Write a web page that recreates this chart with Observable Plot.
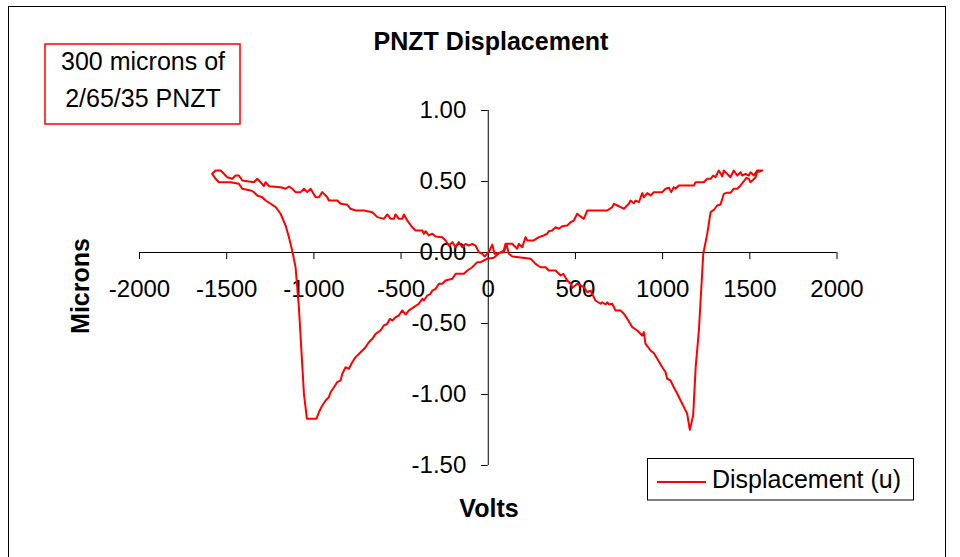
<!DOCTYPE html>
<html><head><meta charset="utf-8">
<script src="https://cdn.jsdelivr.net/npm/d3@7"></script>
<script src="https://cdn.jsdelivr.net/npm/@observablehq/plot@0.6"></script>
<style>body{margin:0;background:#fff;} svg{display:block}</style>
</head><body><div id="chart"></div>
<script>
// Loop of the butterfly curve, in drawing order
const volts = [
 -1583,-1564,-1535,-1516,-1497,-1468,-1449,-1430,-1411,-1344,-1325,-1306,-1287,-1277,-1258,-1191,-1162,-1143,-1124,-1105,
 -1076,-1057,-1038,-1019,-990,-971,-952,-923,-914,-866,-847,-808,-790,-761,-713,-665,-636,-599,-579,-560,
 -541,-532,-513,-493,-484,-464,-436,-417,-378,-369,-360,-341,-321,-302,-264,-245,-226,-206,-187,-169,
 -149,-130,-111,-92,-73,-54,-34,-21,
 3,23,36,89,105,118,138,243,271,300,329,347,386,415,430,453,472,482,510,548,
 568,587,596,615,644,654,673,682,692,711,730,759,778,797,826,854,883,892,902,931,
 950,969,998,1017,1026,1045,1064,1084,1103,1122,1141,1156,1175,1190,1208,1233,1256,1275,1294,1313,
 1332,1351,1366,1389,1408,1428,1447,1466,1481,1494,1504,1519,1533,1542,1571,
 1542,1523,1504,1494,1475,1456,1447,1428,1408,1389,1370,1351,1342,1322,1303,1290,1275,1256,1236,1189,
 1179,1093,1074,1064,1049,1036,1017,998,950,931,912,892,883,864,845,835,816,806,778,759,
 740,720,711,682,568,548,529,510,491,472,453,424,405,386,367,347,338,319,290,261,
 224,214,195,175,166,147,138,99,89,61,32,-6,-44,
 -63,-92,-120,-140,-187,-206,-245,-264,-283,-302,-321,-331,-350,-369,-378,-398,-427,-455,-474,-493,
 -513,-532,-550,-564,-579,-599,-618,-646,-665,-685,-704,-732,-761,-780,-799,-818,-837,-847,-866,-885,
 -904,-914,-933,-952,-971,-985,-1040,
 -1057,-1067,-1086,-1105,-1122,-1143,-1162,-1191,-1219,-1248,-1277,-1296,-1325,-1344,-1363,-1411,-1430,-1478,-1545,-1564,-1583
];
const microns = [
 0.554,0.577,0.577,0.554,0.530,0.519,0.542,0.542,0.507,0.495,0.519,0.495,0.467,0.495,0.467,0.460,0.449,0.465,0.449,0.425,
 0.425,0.449,0.425,0.449,0.389,0.389,0.425,0.389,0.366,0.366,0.343,0.336,0.308,0.296,0.296,0.284,0.249,0.237,0.268,0.237,
 0.237,0.268,0.237,0.237,0.268,0.225,0.178,0.155,0.155,0.132,0.150,0.120,0.132,0.113,0.108,0.085,0.049,0.073,0.037,0.073,
 0.037,0.061,0.049,0.061,0.049,0.002,-0.009,-0.028,
 0.002,0.056,-0.009,0.002,0.056,-0.009,-0.028,-0.044,-0.080,-0.104,-0.104,-0.127,-0.127,-0.162,-0.150,-0.197,-0.220,-0.249,-0.220,-0.244,
 -0.280,-0.268,-0.291,-0.338,-0.361,-0.350,-0.366,-0.350,-0.366,-0.361,-0.408,-0.408,-0.432,-0.467,-0.526,-0.549,-0.585,-0.561,-0.643,-0.690,
 -0.709,-0.749,-0.808,-0.843,-0.889,-0.901,-0.949,-0.995,-1.042,-1.089,-1.136,-1.249,-1.148,-0.800,-0.549,-0.009,0.132,0.284,0.301,0.331,
 0.338,0.413,0.420,0.420,0.449,0.449,0.472,0.502,0.526,0.519,0.495,0.512,0.530,0.565,0.577,
 0.577,0.542,0.565,0.542,0.554,0.542,0.565,0.542,0.577,0.530,0.554,0.577,0.535,0.577,0.530,0.542,0.519,0.519,0.495,0.495,
 0.472,0.472,0.449,0.460,0.425,0.456,0.449,0.425,0.425,0.401,0.418,0.389,0.418,0.354,0.366,0.347,0.366,0.343,0.308,0.319,
 0.331,0.343,0.319,0.296,0.296,0.237,0.254,0.273,0.225,0.213,0.190,0.185,0.167,0.178,0.155,0.150,0.132,0.120,0.108,0.085,
 0.085,0.108,0.037,0.061,0.026,0.049,0.061,0.061,0.014,-0.005,-0.037,-0.044,-0.068,
 -0.068,-0.104,-0.127,-0.150,-0.150,-0.185,-0.197,-0.220,-0.220,-0.256,-0.268,-0.291,-0.303,-0.338,-0.326,-0.361,-0.385,-0.408,-0.437,-0.408,
 -0.444,-0.456,-0.479,-0.467,-0.502,-0.514,-0.549,-0.573,-0.608,-0.632,-0.667,-0.702,-0.737,-0.773,-0.819,-0.808,-0.854,-0.901,-0.913,-0.949,
 -0.984,-1.019,-1.042,-1.077,-1.125,-1.170,-1.170,
 -0.995,-0.784,-0.385,-0.104,0.000,0.108,0.190,0.273,0.319,0.343,0.366,0.389,0.401,0.425,0.437,0.449,0.484,0.495,0.495,0.519,0.554
];
const xTicks = [-2000,-1500,-1000,-500,0,500,1000,1500,2000];
const yTicks = [-1.5,-1,-0.5,0,0.5,1];
const titleText = "PNZT Displacement";
const noteLines = ["300 microns of", "2/65/35 PNZT"];
const xTitle = "Volts";
const yTitle = "Microns";
const seriesName = "Displacement (u)";

const data = volts.map((v, i) => ({v, d: microns[i]}));
const font = "'Liberation Sans', Arial, Helvetica, sans-serif";

const plot = Plot.plot({
  width: 960, height: 557,
  marginLeft: 139, marginRight: 123.5, marginTop: 110, marginBottom: 92,
  style: {fontFamily: font, background: "#fff", overflow: "visible", color: "black"},
  x: {domain: [-2000, 2000], axis: null},
  y: {domain: [-1.5, 1], axis: null},
  marks: [
    Plot.ruleY([0], {x1: -2000, x2: 2000, stroke: "black", strokeWidth: 1}),
    Plot.ruleX([0], {y1: -1.5, y2: 1, stroke: "black", strokeWidth: 1}),
    Plot.ruleX(xTicks, {x: d => d, y1: 0, y2: -0.05, stroke: "black"}),
    Plot.ruleY(yTicks, {y: d => d, x1: 0, x2: -38, stroke: "black"}),
    Plot.text(xTicks, {x: d => d, y: 0, dy: 37, text: d => String(d), fontSize: 24, fill: "black"}),
    Plot.text(yTicks, {x: 0, y: d => d, dx: -22, textAnchor: "end", text: d => d.toFixed(2), fontSize: 24, fill: "black"}),
    Plot.line(data, {x: "v", y: "d", stroke: "#ff0000", strokeWidth: 2, curve: "linear"})
  ]
});
document.getElementById("chart").appendChild(plot);

const svg = d3.select(plot);
svg.append("rect").attr("x", 8.5).attr("y", 6.5).attr("width", 937).attr("height", 570)
  .attr("fill", "none").attr("stroke", "black").attr("stroke-width", 1);
svg.append("text").attr("x", 491).attr("y", 50).attr("text-anchor", "middle")
  .attr("font-family", font).attr("font-weight", "bold").attr("font-size", 25).attr("fill", "black").text(titleText);
svg.append("rect").attr("x", 45).attr("y", 44).attr("width", 195).attr("height", 80)
  .attr("fill", "white").attr("stroke", "#ff0000").attr("stroke-width", 1.5);
noteLines.forEach((t, i) => svg.append("text").attr("x", 143).attr("y", 70 + i * 36.5)
  .attr("text-anchor", "middle").attr("font-family", font).attr("font-size", 25).attr("fill", "black").text(t));
svg.append("text").attr("transform", "translate(89,286) rotate(-90)").attr("text-anchor", "middle")
  .attr("font-family", font).attr("font-weight", "bold").attr("font-size", 25).attr("fill", "black").text(yTitle);
svg.append("text").attr("x", 489).attr("y", 517).attr("text-anchor", "middle")
  .attr("font-family", font).attr("font-weight", "bold").attr("font-size", 25).attr("fill", "black").text(xTitle);
svg.append("rect").attr("x", 647.5).attr("y", 458.5).attr("width", 266).attr("height", 41.5)
  .attr("fill", "white").attr("stroke", "black").attr("stroke-width", 1);
svg.append("line").attr("x1", 657).attr("x2", 706).attr("y1", 482).attr("y2", 482)
  .attr("stroke", "#ff0000").attr("stroke-width", 2);
svg.append("text").attr("x", 712).attr("y", 488).attr("text-anchor", "start").attr("font-family", font).attr("font-size", 25)
  .attr("fill", "black").text(seriesName);
</script>
</body></html>
